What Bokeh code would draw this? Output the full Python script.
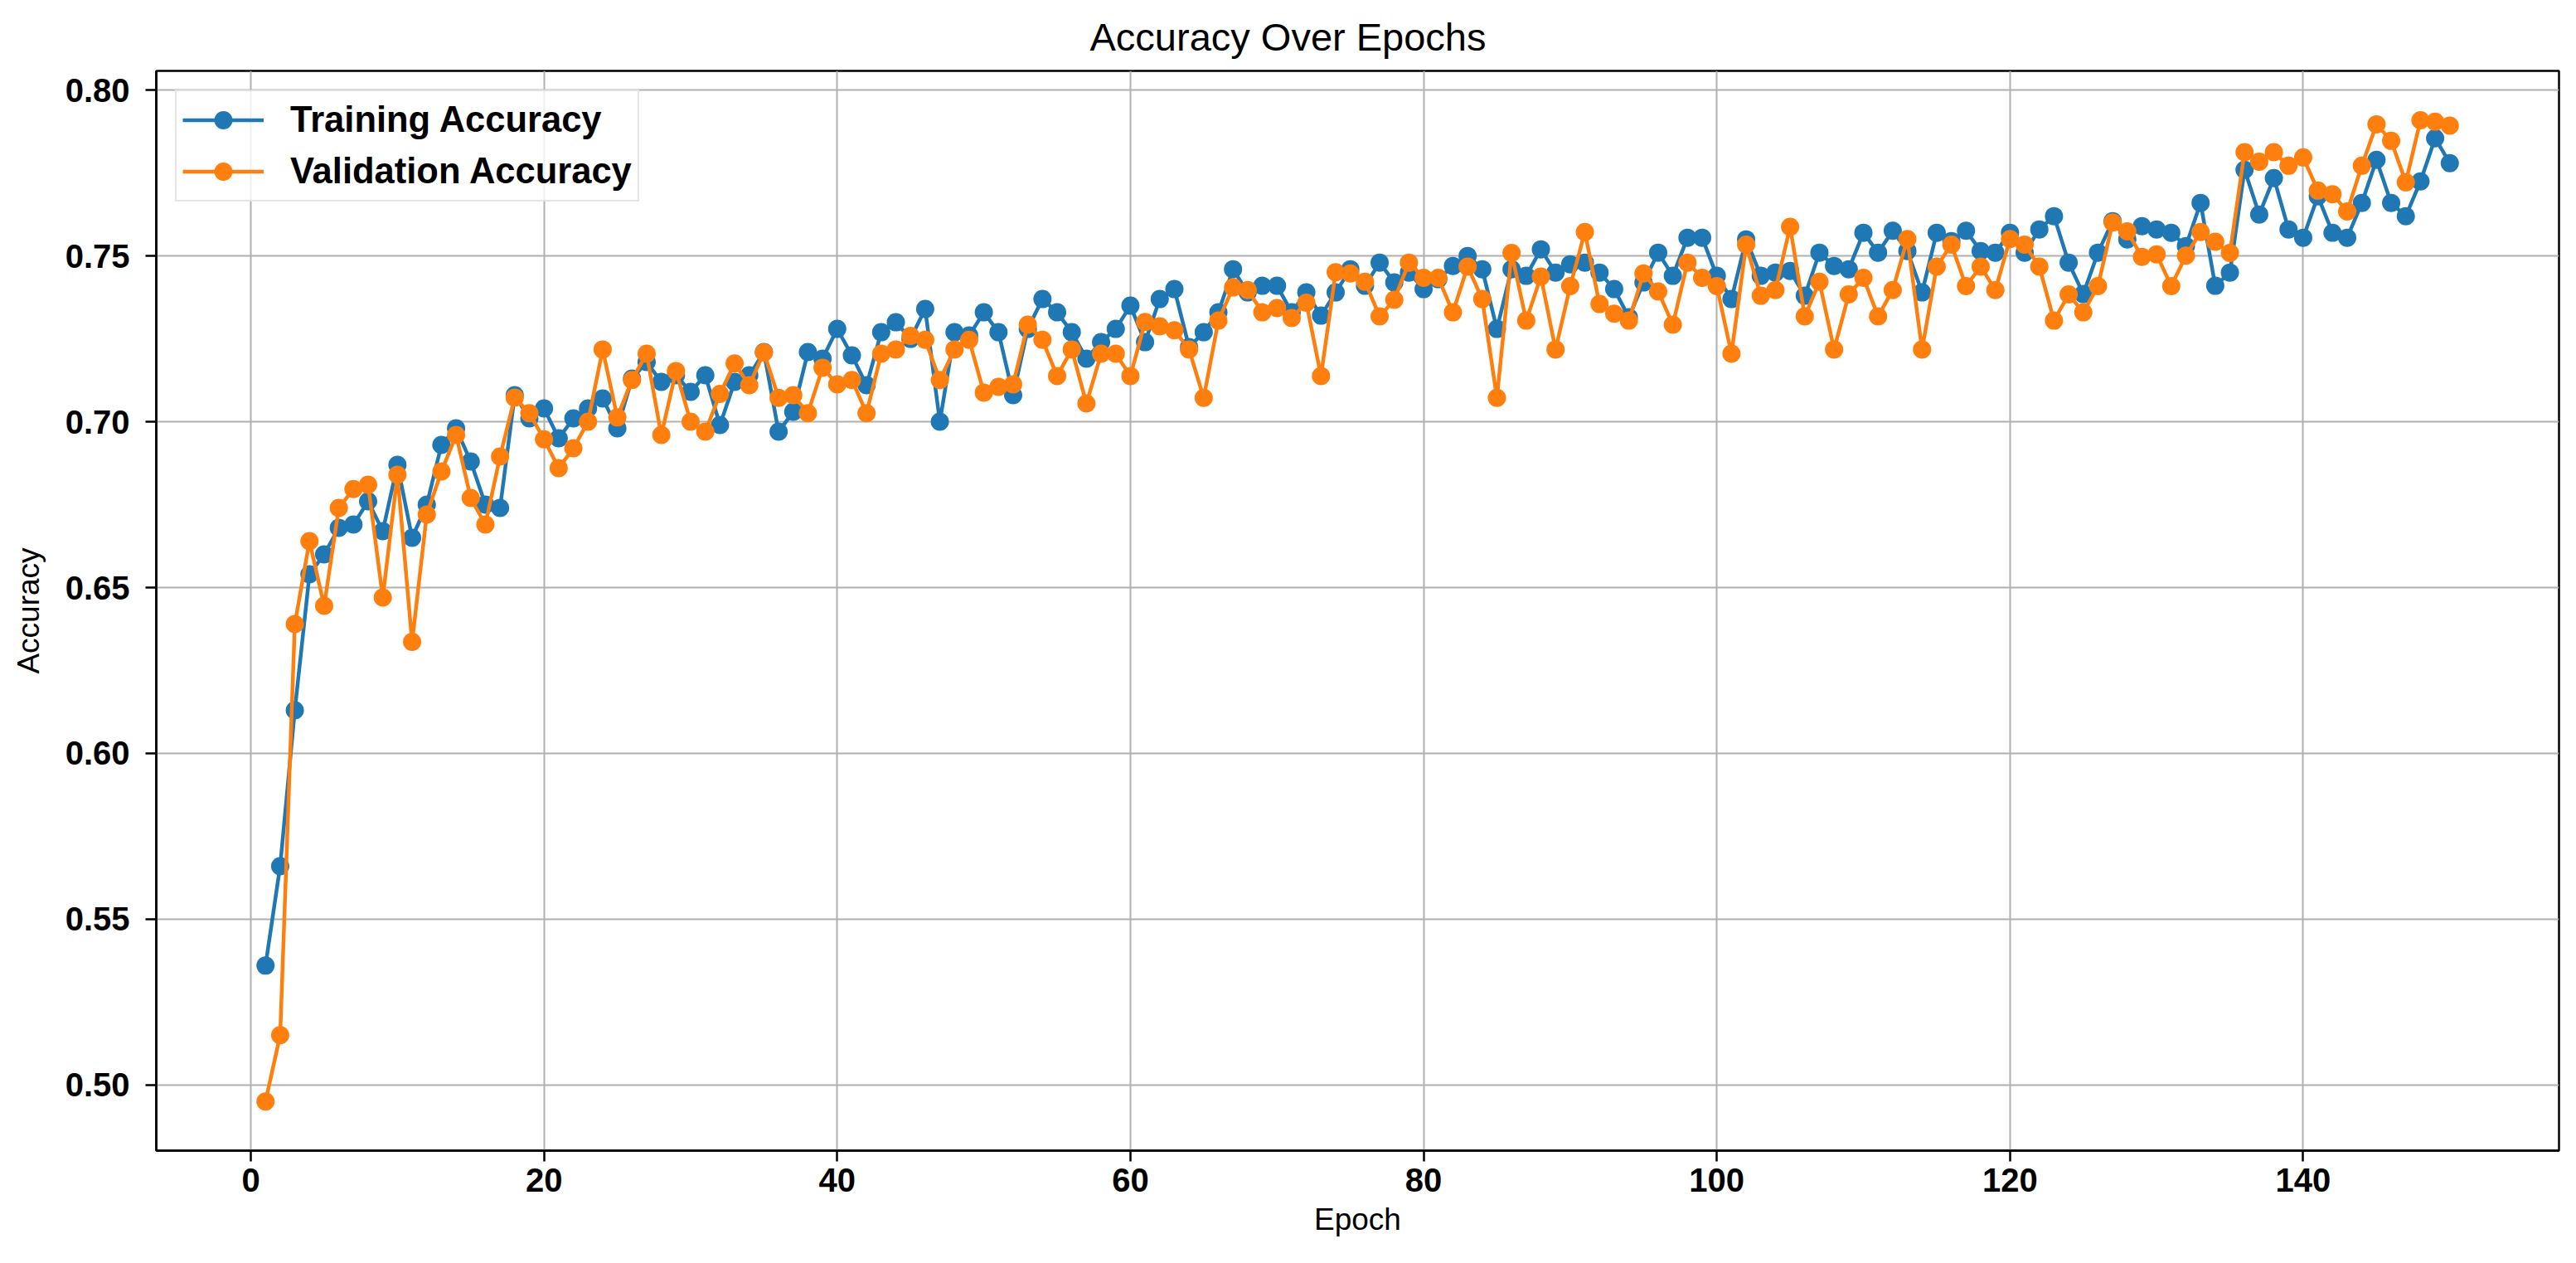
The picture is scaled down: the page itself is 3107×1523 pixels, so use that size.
from bokeh.plotting import figure
from bokeh.models import FixedTicker, NumeralTickFormatter, Legend, LegendItem, Range1d
from bokeh.embed import file_html
from bokeh.resources import INLINE

epochs = list(range(1, 151))

train_acc = [
    0.536, 0.566, 0.613, 0.654, 0.660, 0.668, 0.669, 0.676, 0.667, 0.687,
    0.665, 0.675, 0.693, 0.698, 0.688, 0.675, 0.674, 0.708, 0.701, 0.704,
    0.695, 0.701, 0.704, 0.707, 0.698, 0.713, 0.718, 0.712, 0.714, 0.709,
    0.714, 0.699, 0.712, 0.714, 0.721, 0.697, 0.703, 0.721, 0.719, 0.728,
    0.720, 0.711, 0.727, 0.730, 0.725, 0.734, 0.700, 0.727, 0.726, 0.733,
    0.727, 0.708, 0.728, 0.737, 0.733, 0.727, 0.719, 0.724, 0.728, 0.735,
    0.724, 0.737, 0.740, 0.7225, 0.727, 0.733, 0.746, 0.739, 0.741, 0.741,
    0.733, 0.739, 0.732, 0.739, 0.746, 0.741, 0.748, 0.742, 0.745, 0.740,
    0.743, 0.747, 0.750, 0.746, 0.728, 0.746, 0.744, 0.752, 0.745, 0.7475,
    0.748, 0.745, 0.740, 0.7315, 0.742, 0.751, 0.744, 0.7555, 0.7555, 0.744,
    0.737, 0.755, 0.744, 0.745, 0.7455, 0.738, 0.751, 0.747, 0.746, 0.757,
    0.751, 0.7576, 0.7515, 0.739, 0.757, 0.7545, 0.7576, 0.7515, 0.751, 0.757,
    0.751, 0.758, 0.762, 0.748, 0.7385, 0.751, 0.7605, 0.755, 0.759, 0.758,
    0.757, 0.753, 0.766, 0.741, 0.745, 0.776, 0.7625, 0.7735, 0.758, 0.7555,
    0.768, 0.757, 0.7555, 0.766, 0.779, 0.766, 0.762, 0.7725, 0.7855, 0.778,
]

val_acc = [
    0.495, 0.515, 0.639, 0.664, 0.6445, 0.674, 0.6797, 0.681, 0.647, 0.684,
    0.6336, 0.672, 0.685, 0.696, 0.677, 0.669, 0.6895, 0.7073, 0.7026, 0.6947,
    0.686, 0.692, 0.700, 0.7218, 0.7013, 0.7126, 0.7205, 0.696, 0.7153, 0.700,
    0.697, 0.7084, 0.7176, 0.711, 0.7209, 0.7072, 0.708, 0.7026, 0.7163, 0.7113,
    0.7126, 0.7026, 0.7205, 0.7218, 0.7259, 0.7247, 0.7126, 0.7218, 0.7247, 0.7088,
    0.7105, 0.7113, 0.7293, 0.7247, 0.7138, 0.7218, 0.7055, 0.7205, 0.7205, 0.7138,
    0.7301, 0.7288, 0.7276, 0.7218, 0.7072, 0.7305, 0.7405, 0.7397, 0.733, 0.7343,
    0.7313, 0.7359, 0.7138, 0.7451, 0.7447, 0.7422, 0.7318, 0.7368, 0.748, 0.7434,
    0.7434, 0.733, 0.7468, 0.737, 0.7072, 0.7509, 0.7305, 0.7438, 0.7218, 0.7409,
    0.7572, 0.7355, 0.7326, 0.7305, 0.7447, 0.7393, 0.7293, 0.748, 0.7434, 0.7409,
    0.7205, 0.7534, 0.738, 0.7397, 0.7588, 0.7318, 0.7422, 0.7218, 0.7384, 0.7434,
    0.7318, 0.7397, 0.7551, 0.7218, 0.7468, 0.7534, 0.7409, 0.7468, 0.7397, 0.7551,
    0.7534, 0.7468, 0.7305, 0.7384, 0.733, 0.7409, 0.7601, 0.7574, 0.7497, 0.7505,
    0.7409, 0.7501, 0.7572, 0.7543, 0.7509, 0.7813, 0.7784, 0.7813, 0.7772, 0.7797,
    0.7697, 0.7686, 0.7634, 0.7772, 0.7897, 0.7847, 0.7722, 0.7909, 0.7905, 0.7893,
]

x_ticks = [0, 20, 40, 60, 80, 100, 120, 140]
y_ticks = [0.50, 0.55, 0.60, 0.65, 0.70, 0.75, 0.80]

BLUE = "#1f77b4"
ORANGE = "#ff7f0e"
FONT = "Liberation Sans"

p = figure(
    width=3100, height=1520,
    output_backend="svg", toolbar_location=None,
    x_range=Range1d(-6.45, 157.45), y_range=Range1d(0.4802, 0.8058),
    title="Accuracy Over Epochs",
    min_border_left=188, min_border_right=14,
    min_border_top=85, min_border_bottom=133,
)
p.background_fill_color = "white"
p.border_fill_color = "white"
p.outline_line_color = "black"
p.outline_line_width = 2.5

p.title.align = "left"
p.title.offset = 1126
p.title.standoff = 30
p.title.text_font = FONT
p.title.text_font_size = "47px"
p.title.text_font_style = "normal"
p.title.text_color = "black"

for ax in (p.xaxis[0], p.yaxis[0]):
    ax.axis_line_color = "black"
    ax.axis_line_width = 2.5
    ax.major_tick_line_color = "black"
    ax.major_tick_line_width = 2.5
    ax.major_tick_out = 13
    ax.major_tick_in = 0
    ax.minor_tick_line_color = None
    ax.major_label_text_font = FONT
    ax.major_label_text_font_size = "40px"
    ax.major_label_text_font_style = "bold"
    ax.major_label_text_color = "black"
    ax.axis_label_text_font = FONT
    ax.axis_label_text_font_size = "37px"
    ax.axis_label_text_font_style = "normal"
    ax.axis_label_text_color = "black"

p.xaxis[0].ticker = FixedTicker(ticks=x_ticks)
p.yaxis[0].ticker = FixedTicker(ticks=y_ticks)
p.yaxis[0].formatter = NumeralTickFormatter(format="0.00")
p.xaxis[0].axis_label = "Epoch"
p.yaxis[0].axis_label = "Accuracy"
p.xaxis[0].major_label_standoff = 8
p.xaxis[0].axis_label_standoff = 10
p.yaxis[0].major_label_standoff = 19
p.yaxis[0].axis_label_standoff = 21

for g in (p.xgrid[0], p.ygrid[0]):
    g.grid_line_color = "#b0b0b0"
    g.grid_line_width = 2
p.xgrid[0].ticker = FixedTicker(ticks=x_ticks)
p.ygrid[0].ticker = FixedTicker(ticks=y_ticks)

tl = p.line(epochs, train_acc, line_color=BLUE, line_width=4.5)
ts = p.scatter(epochs, train_acc, size=22, fill_color=BLUE, line_color=BLUE, line_width=0)
vl = p.line(epochs, val_acc, line_color=ORANGE, line_width=4.5)
vs = p.scatter(epochs, val_acc, size=22, fill_color=ORANGE, line_color=ORANGE, line_width=0)

legend = Legend(
    items=[
        LegendItem(label="Training Accuracy", renderers=[tl, ts]),
        LegendItem(label="Validation Accuracy", renderers=[vl, vs]),
    ],
    location="top_left",
    margin=23,
    padding=7,
    spacing=7,
    glyph_width=98,
    glyph_height=55,
    label_height=55,
    label_standoff=32,
    label_text_font=FONT,
    label_text_font_size="43.5px",
    label_text_font_style="bold",
    label_text_color="black",
    border_line_color="#cccccc",
    border_line_width=2,
    background_fill_color="white",
    background_fill_alpha=0.8,
)
p.add_layout(legend, "center")

open("out.html", "w").write(file_html(p, INLINE))
